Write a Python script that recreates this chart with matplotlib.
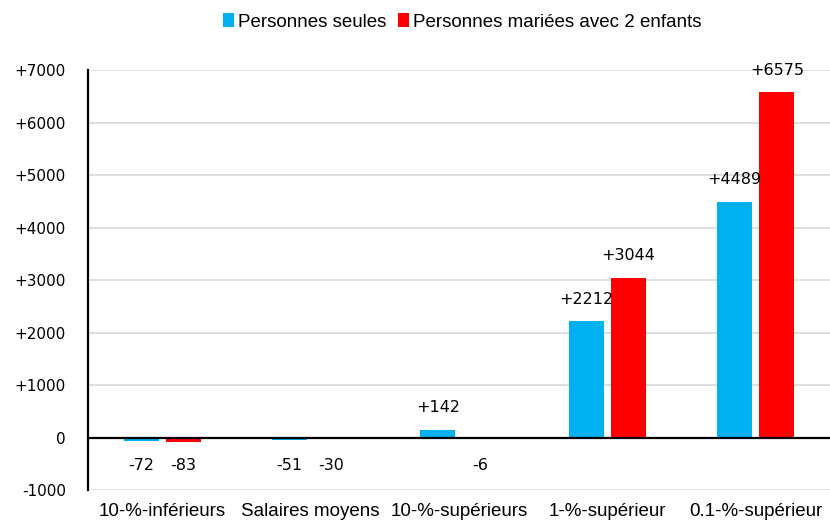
import matplotlib.pyplot as plt
import numpy as np

categories = ["10-%-inférieurs", "Salaires moyens", "10-%-supérieurs",
              "1-%-supérieur", "0.1-%-supérieur"]
seules = [-72, -51, 142, 2212, 4489]
mariees = [-83, -30, -6, 3044, 6575]
series_names = ["Personnes seules", "Personnes mariées avec 2 enfants"]
yticks = [-1000, 0, 1000, 2000, 3000, 4000, 5000, 6000, 7000]

BLUE = "#00b0f0"
RED = "#ff0000"


def fmt(v):
    return f"+{v}" if v > 0 else f"-{abs(v)}"


def main() -> None:
    fig = plt.figure(figsize=(8.3, 5.23), dpi=100)
    ax = fig.add_axes([0.106, 0.063, 0.894, 0.803])

    x = np.arange(len(categories))
    width = 0.235
    offset = 0.142
    b1 = ax.bar(x - offset, seules, width, color=BLUE, label=series_names[0], zorder=2)
    b2 = ax.bar(x + offset, mariees, width, color=RED, label=series_names[1], zorder=2)

    for bars, vals in ((b1, seules), (b2, mariees)):
        for bar, v in zip(bars, vals):
            cx = bar.get_x() + bar.get_width() / 2
            if v > 0:
                ax.annotate(fmt(v), (cx, v), xytext=(0, 16), textcoords="offset points",
                            ha="center", va="center", fontsize=11.5, family="DejaVu Sans")
            else:
                ax.annotate(fmt(v), (cx, 0), xytext=(0, -20), textcoords="offset points",
                            ha="center", va="center", fontsize=11.5, family="DejaVu Sans")

    ax.axhline(0, color="black", lw=1.6, zorder=3)
    ax.set_xlim(-0.5, len(categories) - 0.5)
    ax.set_ylim(-1000, 7000)
    ax.set_yticks(yticks)
    ax.set_yticklabels([fmt(t) if t != 0 else "0" for t in yticks],
                       fontsize=11, family="DejaVu Sans")
    ax.set_xticks(x)
    ax.set_xticklabels(categories, fontsize=13.5, family="Liberation Sans")
    ax.tick_params(axis="both", length=0)
    ax.tick_params(axis="y", pad=16)
    ax.tick_params(axis="x", pad=9)
    ax.grid(axis="y", color="#d9d9d9", lw=1.2, zorder=0)
    ax.set_axisbelow(True)
    for side in ("top", "right", "bottom"):
        ax.spines[side].set_visible(False)
    ax.spines["left"].set_color("black")
    ax.spines["left"].set_linewidth(1.6)

    fig.legend(handles=[b1, b2], labels=series_names, loc="center",
               bbox_to_anchor=(0.557, 0.958), ncol=2, frameon=False,
               prop={"family": "Liberation Sans", "size": 13.5},
               handlelength=0.6, handleheight=0.8, handletextpad=0.2,
               columnspacing=0.6)

    fig.savefig("out.png", dpi=100)
    plt.close(fig)


if __name__ == "__main__":
    main()
